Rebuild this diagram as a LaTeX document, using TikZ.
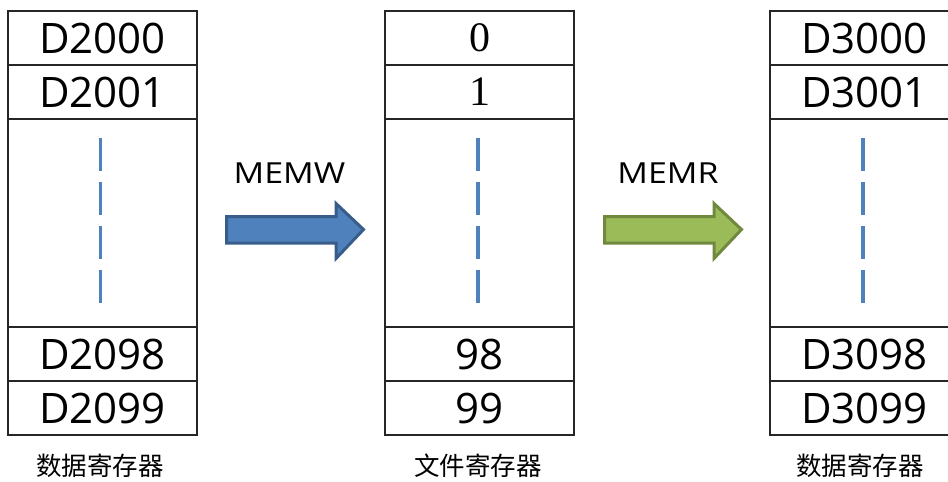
\documentclass[tikz,border=0pt]{standalone}
\usepackage{fontspec}
\setmainfont{Open Sans}
\newfontfamily\cjk{Noto Sans CJK SC}
\newfontfamily\serifnum{Liberation Serif}
\definecolor{blueF}{HTML}{4F81BD}
\definecolor{blueD}{HTML}{385D8A}
\definecolor{greenF}{HTML}{9BBB59}
\definecolor{greenD}{HTML}{71893F}
\definecolor{boxline}{HTML}{262626}
\tikzset{
  cell/.style={draw=boxline, line width=1.8pt, minimum width=189pt, minimum height=54pt,
    inner sep=0pt, outer sep=0pt, font=\fontsize{42}{48}\selectfont},
  bigcell/.style={cell, minimum height=208pt},
  sercell/.style={cell, font=\serifnum\fontsize{42}{48}\selectfont},
  dashseg/.style={draw=blueF, line width=3.5pt},
  opname/.style={font=\fontsize{29}{33}\selectfont, inner sep=0pt, xscale=1.17},
  captext/.style={font=\cjk\fontsize{25.5}{30}\selectfont, inner sep=0pt},
  blockarrow/.style={line width=3pt, line join=miter}
}
\begin{document}
\begin{tikzpicture}[x=1pt,y=-1pt]
\useasboundingbox (0,0) rectangle (948,482);
\begin{scope}
\clip (0,0) rectangle (948,482);
% left column
\node[cell] (l0) at (102.5,38) {D2000};
\node[cell] (l1) at (102.5,92) {D2001};
\node[bigcell] (lm) at (102.5,223) {};
\node[cell] (l98) at (102.5,354) {D2098};
\node[cell] (l99) at (102.5,408) {D2099};
% middle column
\node[sercell] (m0) at (479.5,38) {0};
\node[sercell] (m1) at (479.5,92) {1};
\node[bigcell] (mm) at (479.5,223) {};
\node[cell] (m98) at (479.5,354) {98};
\node[cell] (m99) at (479.5,408) {99};
% right column
\node[cell] (r0) at (864.5,38) {D3000};
\node[cell] (r1) at (864.5,92) {D3001};
\node[bigcell] (rm) at (864.5,223) {};
\node[cell] (r98) at (864.5,354) {D3098};
\node[cell] (r99) at (864.5,408) {D3099};
\end{scope}
% dashes
\foreach \xx in {100.7,478,863}{
  \foreach \yy in {138,182,226,270}{
    \draw[dashseg] (\xx,\yy) -- (\xx,\yy+33);
  }
}
% arrows
\draw[blockarrow, draw=blueD, fill=blueF]
  (226.5,216.5) -- (336,216.5) -- (336,203.5) -- (363.5,229.5) -- (336,258.5) -- (336,243) -- (226.5,243) -- cycle;
\draw[blockarrow, draw=greenD, fill=greenF]
  (604.5,216.5) -- (714,216.5) -- (714,203.5) -- (741.5,229.5) -- (714,258.5) -- (714,243) -- (604.5,243) -- cycle;
\node[opname] (memw) at (289.5,173) {MEMW};
\node[opname] (memr) at (668,173) {MEMR};
% captions
\node[captext] (c1) at (100,466) {数据寄存器};
\node[captext] (c2) at (478,466) {文件寄存器};
\node[captext] (c3) at (860,466) {数据寄存器};
\end{tikzpicture}
\end{document}
